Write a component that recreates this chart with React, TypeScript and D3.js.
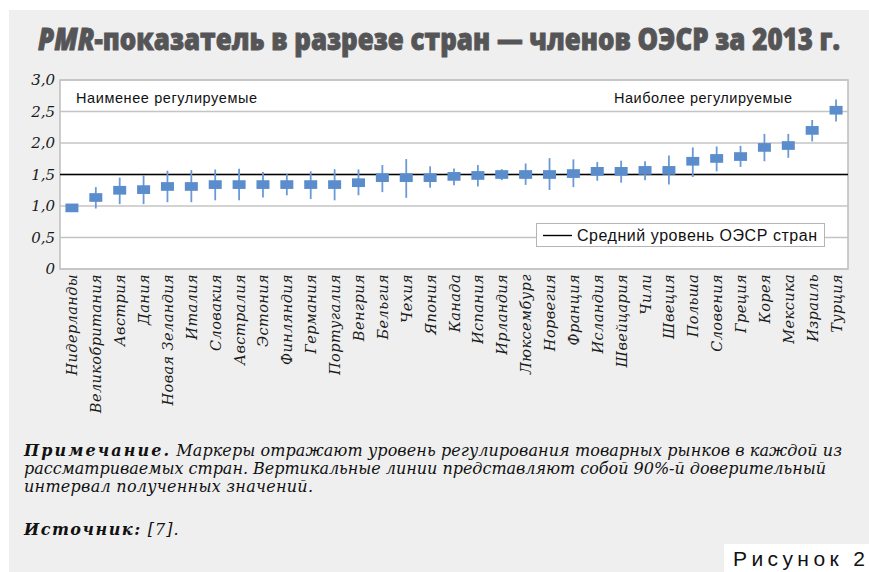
import React, { useEffect, useRef } from "react";
import * as d3 from "d3";

const countries = [
  "Нидерланды", "Великобритания", "Австрия", "Дания", "Новая  Зеландия", "Италия",
  "Словакия", "Австралия", "Эстония", "Финляндия", "Германия", "Португалия",
  "Венгрия", "Бельгия", "Чехия", "Япония", "Канада", "Испания", "Ирландия",
  "Люксембург", "Норвегия", "Франция", "Исландия", "Швейцария", "Чили", "Швеция",
  "Польша", "Словения", "Греция", "Корея", "Мексика", "Израиль", "Турция",
];
const values = [
  0.97, 1.135, 1.25, 1.26, 1.31, 1.31, 1.34, 1.34, 1.34, 1.34, 1.34, 1.34,
  1.37, 1.45, 1.45, 1.45, 1.47, 1.485, 1.5, 1.5, 1.5, 1.515, 1.55, 1.55, 1.565,
  1.565, 1.71, 1.755, 1.785, 1.93, 1.96, 2.2, 2.52,
];
const lows = [
  0.95, 0.96, 1.03, 1.03, 1.06, 1.06, 1.09, 1.09, 1.135, 1.17, 1.11, 1.09,
  1.17, 1.22, 1.13, 1.29, 1.33, 1.31, 1.41, 1.335, 1.255, 1.3, 1.4, 1.37, 1.41,
  1.34, 1.46, 1.55, 1.62, 1.71, 1.765, 2.025, 2.34,
];
const highs = [
  1.0, 1.3, 1.45, 1.49, 1.56, 1.57, 1.58, 1.59, 1.54, 1.505, 1.55, 1.585,
  1.58, 1.65, 1.745, 1.63, 1.595, 1.65, 1.585, 1.675, 1.76, 1.74, 1.7, 1.72, 1.71,
  1.8, 1.93, 1.945, 1.955, 2.145, 2.145, 2.365, 2.69,
];
const oecdMean = 1.5;
const yTicks = [0, 0.5, 1, 1.5, 2, 2.5, 3];
const yTickLabels = ["0", "0,5", "1,0", "1,5", "2,0", "2,5", "3,0"];

const W = 869;
const H = 572;
const plot = { left: 60, right: 848, top: 80, bottom: 269 };
const markerColor = "#5b8dcd";
const serif = "'DejaVu Serif', 'Liberation Serif', serif";
const sans = "'Liberation Sans', Arial, sans-serif";
const titleFont = "'Open Sans', 'DejaVu Sans', sans-serif";

export default function App() {
  const titleRef = useRef<SVGTextElement | null>(null);
  const x = d3.scaleBand<string>().domain(countries).range([plot.left, plot.right]).padding(0);
  const y = d3.scaleLinear().domain([0, 3]).range([plot.bottom, plot.top]);
  const bw = x.bandwidth();
  const mW = 13;
  const mH = 8.7;

  useEffect(() => {
    const el = titleRef.current;
    if (!el) return;
    const w = el.getBBox().width;
    if (w > 0) {
      const s = 802 / w;
      el.setAttribute("transform", `translate(38,50) scale(${s},1)`);
    }
  }, []);

  return (
    <svg
      width={W}
      height={H}
      style={{ position: "absolute", left: 0, top: 0, display: "block" }}
      xmlns="http://www.w3.org/2000/svg"
    >
      <rect x={0} y={0} width={W} height={H} fill="#ffffff" />
      <rect x={9} y={10} width={W - 9} height={H - 10} fill="#efefef" />

      {/* Title */}
      <text
        ref={titleRef}
        transform="translate(38,50) scale(0.85,1)"
        fontFamily={titleFont}
        fontWeight={800}
        fontSize={30}
        fill="#555557"
        stroke="#555557"
        strokeWidth={0.9}
      >
        <tspan fontStyle="italic">PMR</tspan>-показатель в разрезе стран — членов ОЭСР за 2013 г.
      </text>

      {/* Plot background */}
      <rect
        x={plot.left}
        y={plot.top}
        width={plot.right - plot.left}
        height={plot.bottom - plot.top}
        fill="#ffffff"
        stroke="#bdbdbd"
        strokeWidth={1.5}
      />

      {/* Grid */}
      {yTicks.map((t) => (
        <line
          key={t}
          x1={plot.left}
          x2={plot.right}
          y1={y(t)}
          y2={y(t)}
          stroke="#c4c4c4"
          strokeWidth={1.5}
        />
      ))}

      {/* Y tick labels */}
      {yTicks.map((t, i) => (
        <text
          key={"yl" + t}
          x={55}
          y={y(t) + 5}
          textAnchor="end"
          fontFamily={serif}
          fontStyle="italic"
          fontSize={15}
          fill="#1a1a1a"
        >
          {yTickLabels[i]}
        </text>
      ))}

      {/* Mean line */}
      <line
        x1={plot.left}
        x2={plot.right}
        y1={y(oecdMean)}
        y2={y(oecdMean)}
        stroke="#000"
        strokeWidth={1.6}
      />

      {/* Whiskers and markers */}
      {countries.map((c, i) => {
        const cx = (x(c) as number) + bw / 2;
        return (
          <g key={c}>
            <line
              x1={cx}
              x2={cx}
              y1={y(lows[i])}
              y2={y(highs[i])}
              stroke="#6a9ad6"
              strokeWidth={1.8}
            />
            <rect
              x={cx - mW / 2}
              y={y(values[i]) - mH / 2}
              width={mW}
              height={mH}
              fill={markerColor}
            />
          </g>
        );
      })}

      {/* Annotations */}
      <text
        x={76}
        y={102.5}
        textLength={181}
        lengthAdjust="spacing"
        fontFamily={sans}
        fontSize={14.5}
        fill="#111"
      >
        Наименее  регулируемые
      </text>
      <text
        x={614}
        y={102.5}
        textLength={178}
        lengthAdjust="spacing"
        fontFamily={sans}
        fontSize={14.5}
        fill="#111"
      >
        Наиболее  регулируемые
      </text>

      {/* Legend */}
      <rect x={536.5} y={223.5} width={288} height={23} fill="#fff" stroke="#b5b5b5" strokeWidth={1} />
      <line x1={543} x2={572} y1={235.5} y2={235.5} stroke="#000" strokeWidth={1.4} />
      <text
        x={577}
        y={241}
        textLength={240}
        lengthAdjust="spacing"
        fontFamily={sans}
        fontSize={16}
        fill="#111"
      >
        Средний  уровень  ОЭСР  стран
      </text>

      {/* X labels */}
      {countries.map((c) => {
        const cx = (x(c) as number) + bw / 2;
        return (
          <text
            key={"xl" + c}
            transform={`translate(${cx + 5.5},${plot.bottom + 5}) rotate(-90)`}
            textAnchor="end"
            fontFamily={serif}
            fontStyle="italic"
            fontSize={14.5}
            letterSpacing={0.4}
            fill="#1a1a1a"
          >
            {c}
          </text>
        );
      })}

      {/* Note */}
      <text x={24} y={456} textLength={818} lengthAdjust="spacing" fontFamily={serif} fontStyle="italic" fontSize={16} fill="#111">
        <tspan fontWeight={700} letterSpacing={2}>Примечание.</tspan>
        <tspan> Маркеры отражают уровень регулирования товарных рынков в каждой из</tspan>
      </text>
      <text x={24} y={474} textLength={802} lengthAdjust="spacing" fontFamily={serif} fontStyle="italic" fontSize={16} fill="#111">
        рассматриваемых стран. Вертикальные линии представляют собой 90%-й доверительный
      </text>
      <text x={24} y={492} textLength={289} lengthAdjust="spacing" fontFamily={serif} fontStyle="italic" fontSize={16} fill="#111">
        интервал полученных значений.
      </text>
      <text x={24} y={535} textLength={156} lengthAdjust="spacing" fontFamily={serif} fontStyle="italic" fontSize={16} fill="#111">
        <tspan fontWeight={700} letterSpacing={2}>Источник:</tspan>
        <tspan letterSpacing={1.5}> [7].</tspan>
      </text>

      {/* Figure label */}
      <rect x={724} y={544} width={W - 724} height={H - 544} fill="#ffffff" />
      <text
        x={733}
        y={566}
        textLength={132}
        lengthAdjust="spacing"
        fontFamily={sans}
        fontSize={21}
        fill="#111"
      >
        Рисунок 2
      </text>
    </svg>
  );
}
